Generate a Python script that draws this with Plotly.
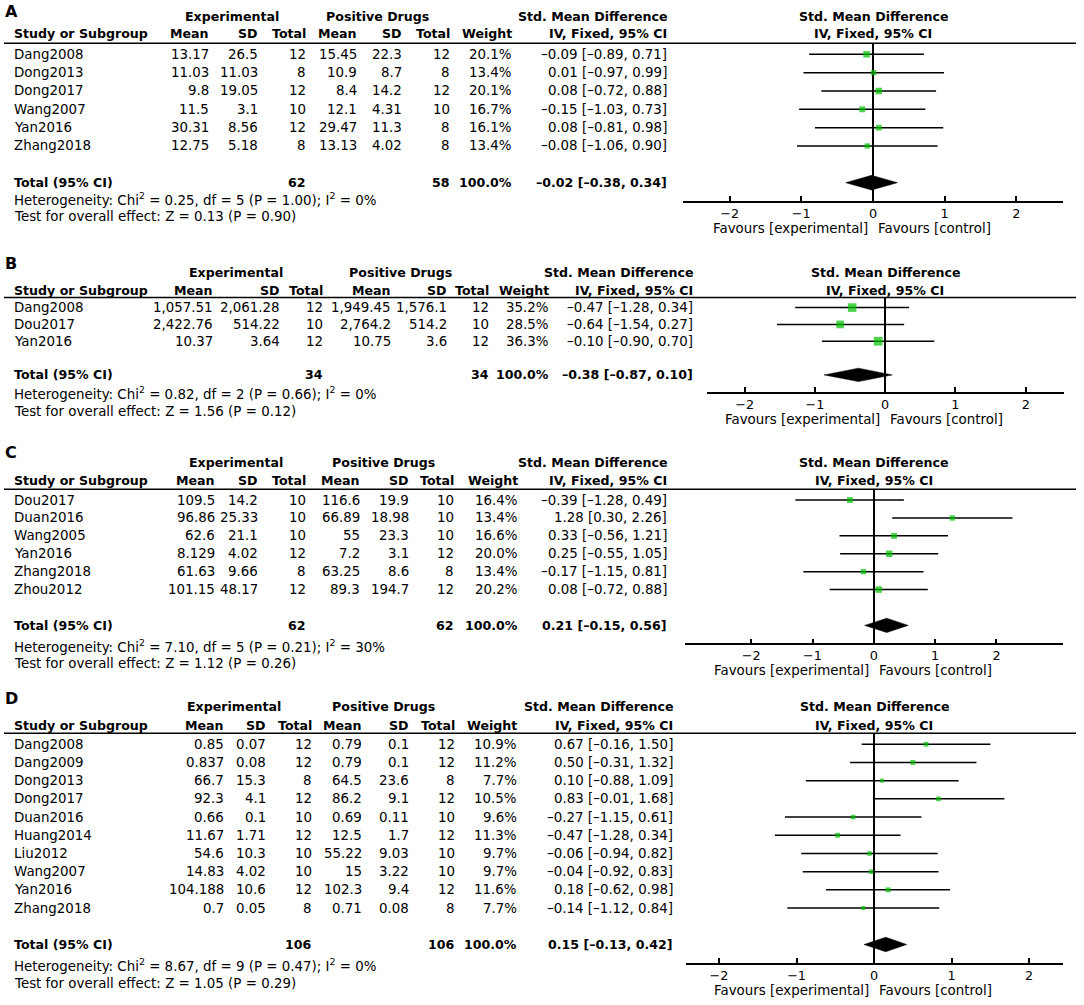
import math
import plotly.graph_objects as go

W, H = 1084, 1005

# ---------------- Panel A data ----------------
A_study = ["Dang2008", "Dong2013", "Dong2017", "Wang2007", "Yan2016", "Zhang2018"]
A_exp_mean = [13.17, 11.03, 9.8, 11.5, 30.31, 12.75]
A_exp_sd = [26.5, 11.03, 19.05, 3.1, 8.56, 5.18]
A_exp_n = [12, 8, 12, 10, 12, 8]
A_pos_mean = [15.45, 10.9, 8.4, 12.1, 29.47, 13.13]
A_pos_sd = [22.3, 8.7, 14.2, 4.31, 11.3, 4.02]
A_pos_n = [12, 8, 12, 10, 8, 8]
A_weight = [20.1, 13.4, 20.1, 16.7, 16.1, 13.4]
A_smd = [-0.09, 0.01, 0.08, -0.15, 0.08, -0.08]
A_lo = [-0.89, -0.97, -0.72, -1.03, -0.81, -1.06]
A_hi = [0.71, 0.99, 0.88, 0.73, 0.98, 0.90]
A_total_n = [62, 58]
A_total_w = 100.0
A_total_smd = [-0.02, -0.38, 0.34]
A_het = "Heterogeneity: Chi<sup>2</sup> = 0.25, df = 5 (P = 1.00); I<sup>2</sup> = 0%"
A_test = "Test for overall effect: Z = 0.13 (P = 0.90)"

# ---------------- Panel B data ----------------
B_study = ["Dang2008", "Dou2017", "Yan2016"]
B_exp_mean = [1057.51, 2422.76, 10.37]
B_exp_sd = [2061.28, 514.22, 3.64]
B_exp_n = [12, 10, 12]
B_pos_mean = [1949.45, 2764.2, 10.75]
B_pos_sd = [1576.1, 514.2, 3.6]
B_pos_n = [12, 10, 12]
B_weight = [35.2, 28.5, 36.3]
B_smd = [-0.47, -0.64, -0.10]
B_lo = [-1.28, -1.54, -0.90]
B_hi = [0.34, 0.27, 0.70]
B_total_n = [34, 34]
B_total_w = 100.0
B_total_smd = [-0.38, -0.87, 0.10]
B_het = "Heterogeneity: Chi<sup>2</sup> = 0.82, df = 2 (P = 0.66); I<sup>2</sup> = 0%"
B_test = "Test for overall effect: Z = 1.56 (P = 0.12)"

# ---------------- Panel C data ----------------
C_study = ["Dou2017", "Duan2016", "Wang2005", "Yan2016", "Zhang2018", "Zhou2012"]
C_exp_mean = [109.5, 96.86, 62.6, 8.129, 61.63, 101.15]
C_exp_sd = [14.2, 25.33, 21.1, 4.02, 9.66, 48.17]
C_exp_n = [10, 10, 10, 12, 8, 12]
C_pos_mean = [116.6, 66.89, 55, 7.2, 63.25, 89.3]
C_pos_sd = [19.9, 18.98, 23.3, 3.1, 8.6, 194.7]
C_pos_n = [10, 10, 10, 12, 8, 12]
C_weight = [16.4, 13.4, 16.6, 20.0, 13.4, 20.2]
C_smd = [-0.39, 1.28, 0.33, 0.25, -0.17, 0.08]
C_lo = [-1.28, 0.30, -0.56, -0.55, -1.15, -0.72]
C_hi = [0.49, 2.26, 1.21, 1.05, 0.81, 0.88]
C_total_n = [62, 62]
C_total_w = 100.0
C_total_smd = [0.21, -0.15, 0.56]
C_het = "Heterogeneity: Chi<sup>2</sup> = 7.10, df = 5 (P = 0.21); I<sup>2</sup> = 30%"
C_test = "Test for overall effect: Z = 1.12 (P = 0.26)"

# ---------------- Panel D data ----------------
D_study = ["Dang2008", "Dang2009", "Dong2013", "Dong2017", "Duan2016",
           "Huang2014", "Liu2012", "Wang2007", "Yan2016", "Zhang2018"]
D_exp_mean = [0.85, 0.837, 66.7, 92.3, 0.66, 11.67, 54.6, 14.83, 104.188, 0.7]
D_exp_sd = [0.07, 0.08, 15.3, 4.1, 0.1, 1.71, 10.3, 4.02, 10.6, 0.05]
D_exp_n = [12, 12, 8, 12, 10, 12, 10, 10, 12, 8]
D_pos_mean = [0.79, 0.79, 64.5, 86.2, 0.69, 12.5, 55.22, 15, 102.3, 0.71]
D_pos_sd = [0.1, 0.1, 23.6, 9.1, 0.11, 1.7, 9.03, 3.22, 9.4, 0.08]
D_pos_n = [12, 12, 8, 12, 10, 12, 10, 10, 12, 8]
D_weight = [10.9, 11.2, 7.7, 10.5, 9.6, 11.3, 9.7, 9.7, 11.6, 7.7]
D_smd = [0.67, 0.50, 0.10, 0.83, -0.27, -0.47, -0.06, -0.04, 0.18, -0.14]
D_lo = [-0.16, -0.31, -0.88, -0.01, -1.15, -1.28, -0.94, -0.92, -0.62, -1.12]
D_hi = [1.50, 1.32, 1.09, 1.68, 0.61, 0.34, 0.82, 0.83, 0.98, 0.84]
D_total_n = [106, 106]
D_total_w = 100.0
D_total_smd = [0.15, -0.13, 0.42]
D_het = "Heterogeneity: Chi<sup>2</sup> = 8.67, df = 9 (P = 0.47); I<sup>2</sup> = 0%"
D_test = "Test for overall effect: Z = 1.05 (P = 0.29)"

TICKS = [-2, -1, 0, 1, 2]

panels = [
    dict(letter="A", study=A_study, em=A_exp_mean, es=A_exp_sd, en=A_exp_n,
         pm=A_pos_mean, ps=A_pos_sd, pn=A_pos_n, w=A_weight, smd=A_smd, lo=A_lo, hi=A_hi,
         tn=A_total_n, tw=A_total_w, tsmd=A_total_smd, het=A_het, test=A_test),
    dict(letter="B", study=B_study, em=B_exp_mean, es=B_exp_sd, en=B_exp_n,
         pm=B_pos_mean, ps=B_pos_sd, pn=B_pos_n, w=B_weight, smd=B_smd, lo=B_lo, hi=B_hi,
         tn=B_total_n, tw=B_total_w, tsmd=B_total_smd, het=B_het, test=B_test),
    dict(letter="C", study=C_study, em=C_exp_mean, es=C_exp_sd, en=C_exp_n,
         pm=C_pos_mean, ps=C_pos_sd, pn=C_pos_n, w=C_weight, smd=C_smd, lo=C_lo, hi=C_hi,
         tn=C_total_n, tw=C_total_w, tsmd=C_total_smd, het=C_het, test=C_test),
    dict(letter="D", study=D_study, em=D_exp_mean, es=D_exp_sd, en=D_exp_n,
         pm=D_pos_mean, ps=D_pos_sd, pn=D_pos_n, w=D_weight, smd=D_smd, lo=D_lo, hi=D_hi,
         tn=D_total_n, tw=D_total_w, tsmd=D_total_smd, het=D_het, test=D_test),
]

# layout (pixel positions) per panel
layouts = [
    dict(letter_y=11.5, h1=16, h2=34, line_y=43.3, axis_y=201, het_y=199, test_y=217, fav_y=229,
         x0=683, x1=1063, xr=[-2.65, 2.65],
         cols=[209.5, 259.3, 307, 358.2, 403.3, 451, 513, 668], exp_c=232, pos_c=377.3),
    dict(letter_y=263, h1=272.7, h2=290, line_y=297.5, axis_y=391.7, het_y=393.3, test_y=411.7, fav_y=419.5,
         x0=706.7, x1=1064, xr=[-2.54, 2.545],
         cols=[214.3, 281, 324.4, 391.6, 448, 490, 550, 694], exp_c=235.5, pos_c=400),
    dict(letter_y=452, h1=462.5, h2=480.7, line_y=489.3, axis_y=643.3, het_y=645.7, test_y=663.3, fav_y=670,
         x0=685, x1=1063.3, xr=[-3.08, 3.09],
         cols=[215.5, 258.9, 307, 360.8, 409.8, 455.3, 519, 668], exp_c=235.5, pos_c=383.8),
    dict(letter_y=698, h1=706.7, h2=725, line_y=733.3, axis_y=962.7, het_y=965, test_y=983.3, fav_y=990,
         x0=685.7, x1=1063.3, xr=[-2.43, 2.44],
         cols=[224.6, 266.7, 313, 363.4, 409.8, 456.2, 518.2, 673.5], exp_c=234.2, pos_c=383.8),
]

FONT = "DejaVu Sans"
FS = 13.4
TFS = 12.8
BFS = 12.6
STUDY_X = 13
GREEN = "#00c000"


def px(x):
    return x / W


def py(y):
    return 1 - y / H


def num(v):
    return f"{v:,}"


def dec(v):
    return f"{v:.2f}".replace("-", "\u2013")


def ci(m, l, h):
    return f"{dec(m)} [{dec(l)}, {dec(h)}]"


fig = go.Figure()
annotations = []
shapes = []


def text(x, y, s, anchor="right", bold=False, size=None, xref="paper"):
    annotations.append(dict(
        x=x if xref != "paper" else px(x), y=py(y), xref=xref, yref="paper",
        text=f"<b>{s}</b>" if bold else s, showarrow=False,
        xanchor=anchor, yanchor="middle", borderpad=0,
        font=dict(family=FONT, size=size or (BFS if bold else FS), color="#000")))


layout_axes = {}
for k, (p, L) in enumerate(zip(panels, layouts), start=1):
    n = len(p["study"])
    top_idx, bot_idx = -0.6, n + 2

    def row_px(i, L=L, n=n):
        return L["line_y"] + (i - top_idx) / (bot_idx - top_idx) * (L["axis_y"] - L["line_y"])

    xa, ya = f"x{k}", f"y{k}"

    # CI lines
    xs, ys = [], []
    for i in range(n):
        xs += [p["lo"][i], p["hi"][i], None]
        ys += [i, i, None]
    fig.add_trace(go.Scatter(x=xs, y=ys, mode="lines", line=dict(color="#000", width=1.5),
                             xaxis=xa, yaxis=ya, hoverinfo="skip", cliponaxis=False))
    # squares
    fig.add_trace(go.Scatter(x=p["smd"], y=list(range(n)), mode="markers",
                             marker=dict(symbol="square", color=GREEN,
                                         size=[1.45 * math.sqrt(w) for w in p["w"]],
                                         line=dict(width=0)),
                             xaxis=xa, yaxis=ya, cliponaxis=False))
    # diamond
    est, tlo, thi = p["tsmd"]
    t = n + 1
    hh = 0.4
    fig.add_trace(go.Scatter(x=[tlo, est, thi, est, tlo], y=[t, t - hh, t, t + hh, t],
                             mode="lines", fill="toself", fillcolor="#000",
                             line=dict(color="#000", width=0.5),
                             xaxis=xa, yaxis=ya, hoverinfo="skip"))

    xdom = [px(L["x0"]), px(L["x1"])]
    layout_axes[f"xaxis{k}"] = dict(
        domain=xdom, range=L["xr"], anchor=ya, showline=True, linecolor="#000", linewidth=1.5,
        ticks="inside", ticklen=5, tickwidth=1.5, tickcolor="#000", tickvals=TICKS,
        tickfont=dict(family=FONT, size=TFS, color="#000"), showgrid=False,
        zeroline=True, zerolinecolor="#000", zerolinewidth=1.5, fixedrange=True)
    layout_axes[f"yaxis{k}"] = dict(
        domain=[py(L["axis_y"]), py(L["line_y"])], range=[bot_idx, top_idx], anchor=xa,
        visible=False, showgrid=False, zeroline=False, fixedrange=True)
    layout_axes[f"xaxis{k + 4}"] = dict(
        domain=xdom, range=L["xr"], anchor=ya, overlaying=xa, showline=False,
        ticks="outside", ticklen=4, tickwidth=1.5, tickcolor="#000", tickvals=TICKS,
        showticklabels=False, showgrid=False, zeroline=False, fixedrange=True)

    # header line
    shapes.append(dict(type="line", xref="paper", yref="paper", x0=px(4), x1=px(1076),
                       y0=py(L["line_y"]), y1=py(L["line_y"]), line=dict(color="#000", width=1.5)))

    # panel letter
    text(4, L["letter_y"], p["letter"], anchor="left", bold=True, size=16)

    c = L["cols"]
    # headers
    text(L["exp_c"], L["h1"], "Experimental", anchor="center", bold=True)
    text(L["pos_c"], L["h1"], "Positive Drugs", anchor="center", bold=True)
    text(c[7], L["h1"], "Std. Mean Difference", bold=True)
    text(STUDY_X, L["h2"], "Study or Subgroup", anchor="left", bold=True)
    for col, lab in zip(c, ["Mean", "SD", "Total", "Mean", "SD", "Total", "Weight", "IV, Fixed, 95% CI"]):
        text(col, L["h2"], lab, bold=True)
    # forest headers
    text(0, L["h1"], "Std. Mean Difference", anchor="center", bold=True, xref=xa)
    text(0, L["h2"], "IV, Fixed, 95% CI", anchor="center", bold=True, xref=xa)

    # rows
    for i in range(n):
        y = row_px(i)
        text(STUDY_X, y, p["study"][i], anchor="left")
        vals = [num(p["em"][i]), num(p["es"][i]), num(p["en"][i]),
                num(p["pm"][i]), num(p["ps"][i]), num(p["pn"][i]),
                f"{p['w'][i]:.1f}%", ci(p["smd"][i], p["lo"][i], p["hi"][i])]
        for col, v in zip(c, vals):
            text(col, y, v)

    # total row
    yt = row_px(n + 1)
    text(STUDY_X, yt, "Total (95% CI)", anchor="left", bold=True)
    text(c[2], yt, num(p["tn"][0]), bold=True)
    text(c[5], yt, num(p["tn"][1]), bold=True)
    text(c[6], yt, f"{p['tw']:.1f}%", bold=True)
    text(c[7], yt, ci(est, tlo, thi), bold=True)

    text(STUDY_X, L["het_y"], p["het"], anchor="left")
    text(STUDY_X, L["test_y"], p["test"], anchor="left")

    # favours labels
    annotations.append(dict(x=0, y=py(L["fav_y"]), xref=xa, yref="paper", text="Favours [experimental]",
                            showarrow=False, xanchor="right", yanchor="middle", xshift=-4, borderpad=0,
                            font=dict(family=FONT, size=FS, color="#000")))
    annotations.append(dict(x=0, y=py(L["fav_y"]), xref=xa, yref="paper", text="Favours [control]",
                            showarrow=False, xanchor="left", yanchor="middle", xshift=4, borderpad=0,
                            font=dict(family=FONT, size=FS, color="#000")))

fig.update_layout(
    width=W, height=H, margin=dict(l=0, r=0, t=0, b=0),
    paper_bgcolor="white", plot_bgcolor="white", showlegend=False,
    font=dict(family=FONT, size=FS, color="#000"),
    annotations=annotations, shapes=shapes, **layout_axes)

fig.write_html("out.html", config={"displayModeBar": False},
               post_script="document.body.style.margin='0px';")
